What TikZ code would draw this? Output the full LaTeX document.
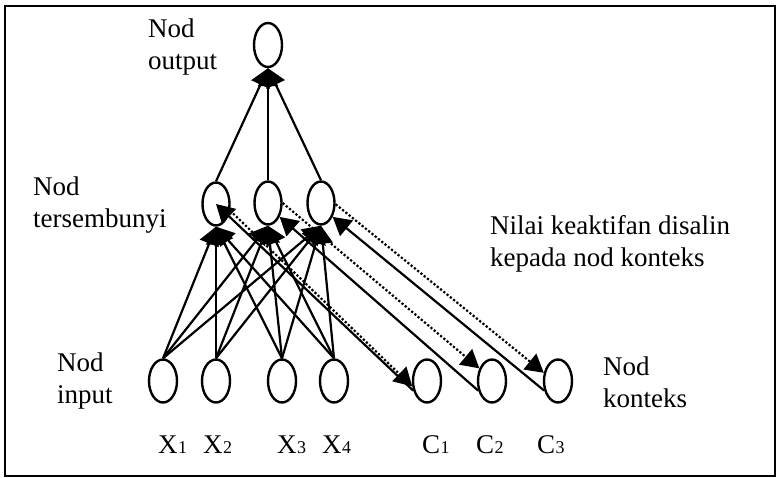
\documentclass[tikz,border=0pt]{standalone}
\usepackage{fontspec}
\setmainfont{Liberation Serif}
\usepackage{tikz}
\usetikzlibrary{shapes.geometric, arrows.meta, positioning}

\begin{document}
\begin{tikzpicture}[
    x=1pt, y=1pt,
    unit/.style={ellipse, draw, line width=2.4pt, minimum width=27pt, minimum height=43pt, inner sep=0pt},
    lbl/.style={anchor=base west, align=left, font=\fontsize{27}{32}\selectfont, inner sep=0pt},
    sub/.style={anchor=base west, font=\fontsize{27}{32}\selectfont, inner sep=0pt},
    arrow/.style={-{Triangle[length=18pt, width=20pt]}, line width=2.2pt},
    copyline/.style={-{Triangle[length=18pt, width=20pt]}, line width=2.2pt, dotted}
]
\useasboundingbox (0,0) rectangle (779,477);
\draw[line width=2.4pt] (5,1) rectangle (775,471);

% Nodes
\node[unit, minimum width=28pt, minimum height=44pt] (out) at (268,432) {};
\node[unit] (h1) at (216,273) {};
\node[unit] (h2) at (268,274) {};
\node[unit] (h3) at (321,274) {};
\node[unit, minimum width=28pt] (x1) at (163,96) {};
\node[unit, minimum width=28pt] (x2) at (216,96) {};
\node[unit, minimum width=28pt] (x3) at (282,96) {};
\node[unit, minimum width=28pt] (x4) at (334,96) {};
\node[unit, minimum width=28pt] (c1) at (427,96) {};
\node[unit, minimum width=28pt] (c2) at (492,96) {};
\node[unit, minimum width=28pt] (c3) at (558,96) {};

% Labels
\node[lbl] (tout) at (148,407) {Nod\\output};
\node[lbl] (thid) at (33,249) {Nod\\tersembunyi};
\node[lbl] (tin) at (57,74) {Nod\\input};
\node[lbl] (tctx) at (603,70) {Nod\\konteks};
\node[lbl] (tcopy) at (490,210) {Nilai keaktifan disalin\\kepada nod konteks};
\foreach \n/\t/\x in {lx1/X/158, lx2/X/203, lx3/X/277, lx4/X/322, lc1/C/422, lc2/C/476, lc3/C/537}
  \node[sub] (\n) at (\x,24) {\t};
\foreach \n/\x/\d in {lx1/158/1, lx2/203/2, lx3/277/3, lx4/322/4, lc1/422/1, lc2/476/2, lc3/537/3}
  \node[anchor=base west, inner sep=0pt, font=\fontsize{18}{20}\selectfont] at (\n.base east) {\d};

% Arrows
\foreach \h in {h1,h2,h3}
  \draw[arrow] (\h.north) -- (out.south);
\foreach \i in {x1,x2,x3,x4}
  \foreach \h in {h1,h2,h3}
    \draw[arrow] (\i.north) -- (\h.south);

% Context
\draw[copyline] (h1.-25) -- (c1.200);
\draw[copyline] (h2.east) -- (c2.135);
\draw[copyline] (h3.-5) -- (c3.150);
\draw[arrow] (c1.215) -- (h1.center);
\draw[arrow] (c2.215) -- (h2.-50);
\draw[arrow] (c3.215) -- (h3.-50);
\end{tikzpicture}
\end{document}
